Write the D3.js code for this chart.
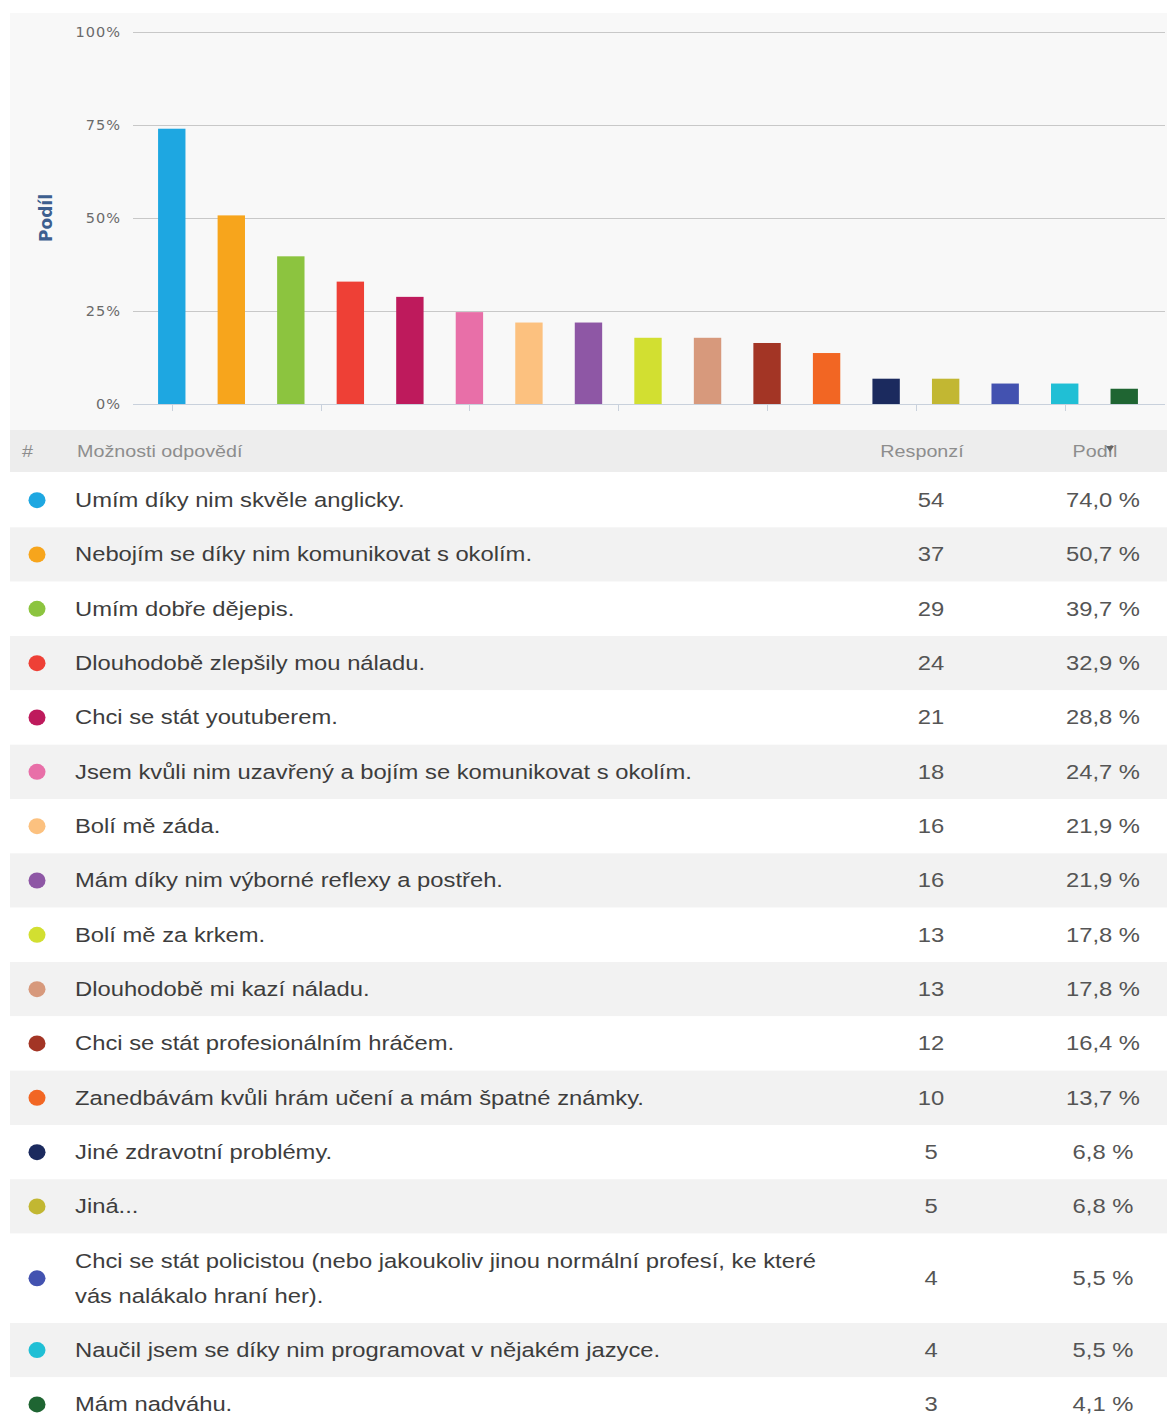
<!DOCTYPE html>
<html>
<head>
<meta charset="utf-8">
<script src="https://cdn.jsdelivr.net/npm/d3@7"></script>
<style>
  html, body { margin: 0; padding: 0; background: #ffffff; }
  svg { display: block; }
</style>
</head>
<body>
<svg id="chart" width="1167" height="1421"></svg>
<script>
// ---------- data ----------
const categories = [
  "Umím díky nim skvěle anglicky.",
  "Nebojím se díky nim komunikovat s okolím.",
  "Umím dobře dějepis.",
  "Dlouhodobě zlepšily mou náladu.",
  "Chci se stát youtuberem.",
  "Jsem kvůli nim uzavřený a bojím se komunikovat s okolím.",
  "Bolí mě záda.",
  "Mám díky nim výborné reflexy a postřeh.",
  "Bolí mě za krkem.",
  "Dlouhodobě mi kazí náladu.",
  "Chci se stát profesionálním hráčem.",
  "Zanedbávám kvůli hrám učení a mám špatné známky.",
  "Jiné zdravotní problémy.",
  "Jiná...",
  "Chci se stát policistou (nebo jakoukoliv jinou normální profesí, ke které vás nalákalo hraní her).",
  "Naučil jsem se díky nim programovat v nějakém jazyce.",
  "Mám nadváhu."
];
const responses = [54, 37, 29, 24, 21, 18, 16, 16, 13, 13, 12, 10, 5, 5, 4, 4, 3];
const shares = [74.0, 50.7, 39.7, 32.9, 28.8, 24.7, 21.9, 21.9, 17.8, 17.8, 16.4, 13.7, 6.8, 6.8, 5.5, 5.5, 4.1];
const colors = ["#1ea7e1", "#f7a51c", "#8cc43f", "#ee4036", "#be1a5c", "#e86fa8", "#fcc17f", "#8e57a5",
                "#d2df31", "#d7997c", "#a33525", "#f26623", "#1b2a5e", "#c2b732", "#4352b0", "#20bfd5", "#1f6532"];
const yTicks = [0, 25, 50, 75, 100];
const xTickIdx = [0, 2.5, 5, 7.5, 10, 12.5, 15];
const headers = { num: "#", answer: "Možnosti odpovědí", resp: "Responzí", share: "Podíl" };
const yAxisTitle = "Podíl";

// ---------- layout ----------
const svg = d3.select("#chart");
const W = 1167;
const SX = 1.16; // horizontal stretch of the reference text
const chartTop = 13, chartBottom = 430, chartLeft = 10;
const plotLeft = 133, plotRight = 1165;
const yTop = 32, yBottom = 404;

svg.append("rect").attr("x", chartLeft).attr("y", chartTop)
  .attr("width", W - chartLeft).attr("height", chartBottom - chartTop).attr("fill", "#f8f8f8");

const x = d3.scaleBand().domain(d3.range(categories.length)).range([142, 1154]).paddingInner(0.54).paddingOuter(0.27);
const y = d3.scaleLinear().domain([0, 100]).range([yBottom, yTop]);
const xLin = d3.scaleLinear().domain([0, categories.length - 1])
  .range([x(0) + x.bandwidth() / 2, x(categories.length - 1) + x.bandwidth() / 2]);

// gridlines + y labels
const yAxis = d3.axisLeft(y).tickValues(yTicks).tickSize(0).tickPadding(12).tickFormat(d => d + "%");
const gy = svg.append("g").attr("transform", `translate(${plotLeft},0)`).call(yAxis);
gy.select(".domain").remove();
gy.selectAll("text").attr("font-family", "DejaVu Sans").attr("font-size", 14.5).attr("fill", "#6a6a6a")
  .attr("letter-spacing", "1px");
svg.append("g").selectAll("line").data(yTicks).join("line")
  .attr("x1", plotLeft).attr("x2", plotRight)
  .attr("y1", d => Math.round(y(d)) + 0.5).attr("y2", d => Math.round(y(d)) + 0.5)
  .attr("stroke", d => d === 0 ? "#c9d1dc" : "#c8c8c8").attr("stroke-width", 1.2);

// x tick marks
svg.append("g").selectAll("line").data(xTickIdx).join("line")
  .attr("x1", d => Math.round(xLin(d)) + 0.5).attr("x2", d => Math.round(xLin(d)) + 0.5)
  .attr("y1", yBottom + 1).attr("y2", yBottom + 7)
  .attr("stroke", "#c9d1dc").attr("stroke-width", 1);

// bars
svg.append("g").selectAll("rect").data(shares).join("rect")
  .attr("x", (d, i) => x(i)).attr("width", x.bandwidth())
  .attr("y", d => y(d)).attr("height", d => y(0) - y(d))
  .attr("fill", (d, i) => colors[i]);

// y axis title
svg.append("text").attr("transform", `translate(52,218) rotate(-90)`)
  .attr("text-anchor", "middle").attr("font-family", "DejaVu Sans").attr("font-weight", "bold")
  .attr("font-size", 17).attr("fill", "#3d5f8f").text(yAxisTitle);

// ---------- table ----------
const font = "Liberation Sans";
const place = (sel, px, py) => sel.attr("transform", `translate(${px},${py}) scale(${SX},1)`);
const headTop = 430, headH = 42;
svg.append("rect").attr("x", chartLeft).attr("y", headTop).attr("width", W - chartLeft).attr("height", headH).attr("fill", "#ededed");
const hy = headTop + headH / 2 + 6;
const hStyle = s => s.attr("font-family", font).attr("font-size", 17).attr("fill", "#8d8d8d");
svg.append("text").call(place, 22, hy).text(headers.num).call(hStyle);
svg.append("text").call(place, 77, hy).text(headers.answer).call(hStyle);
svg.append("text").call(place, 922, hy).attr("text-anchor", "middle").text(headers.resp).call(hStyle);
svg.append("text").call(place, 1095, hy).attr("text-anchor", "middle").text(headers.share).call(hStyle);
// sort arrow icon next to header
svg.append("path").attr("d", "M1106,446 l8,0 l-4,6 z").attr("fill", "#666");

const rowStep = 54.33, lineH = 35, textMax = 655;
let cursor = 473;
const tbl = svg.append("g");
categories.forEach((c, i) => {
  const g = tbl.append("g");
  const bg = g.append("rect").attr("x", chartLeft).attr("width", W - chartLeft)
    .attr("fill", i % 2 === 0 ? "#ffffff" : "#f2f2f2").attr("y", cursor);
  const probeText = g.append("text").attr("font-family", font).attr("font-size", 20.5);
  // wrap words
  const words = c.split(" ");
  let lines = [], cur = [];
  words.forEach(w => {
    const test = cur.concat([w]).join(" ");
    probeText.text(test);
    if (probeText.node().getComputedTextLength() > textMax && cur.length) { lines.push(cur.join(" ")); cur = [w]; }
    else cur.push(w);
  });
  lines.push(cur.join(" "));
  probeText.remove();
  const h = lines.length === 1 ? rowStep : rowStep + (lines.length - 1) * lineH;
  bg.attr("height", h);
  const mid = cursor + h / 2;
  const firstY = mid - (lines.length - 1) * lineH / 2 + 7;
  lines.forEach((l, k) => g.append("text").call(place, 75, firstY + k * lineH)
    .attr("font-family", font).attr("font-size", 20.5).attr("fill", "#3d3d3d").text(l));
  g.append("ellipse").attr("cx", 37).attr("cy", mid).attr("rx", 8.5).attr("ry", 8).attr("fill", colors[i]);
  g.append("text").call(place, 931, mid + 7).attr("text-anchor", "middle")
    .attr("font-family", font).attr("font-size", 20.5).attr("fill", "#555").text(responses[i]);
  g.append("text").call(place, 1103, mid + 7).attr("text-anchor", "middle")
    .attr("font-family", font).attr("font-size", 20.5).attr("fill", "#555")
    .text(shares[i].toFixed(1).replace(".", ",") + " %");
  cursor += h;
});
</script>
</body>
</html>
